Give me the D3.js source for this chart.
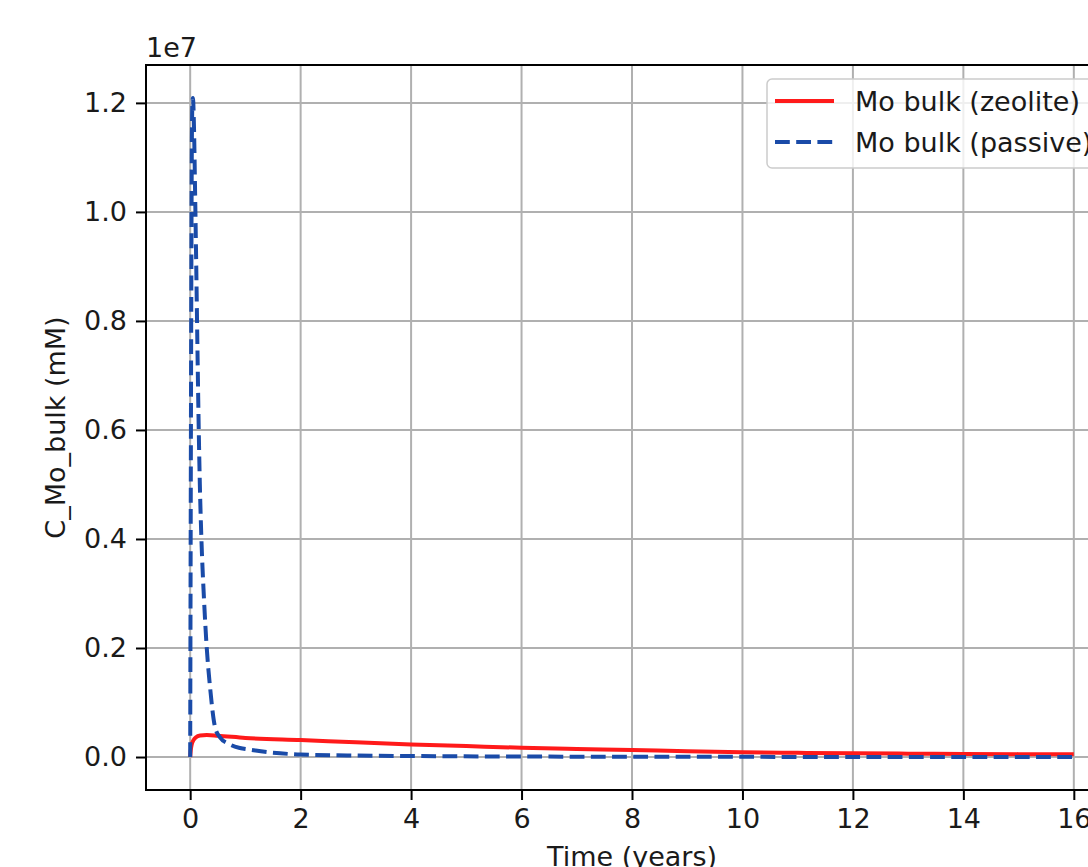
<!DOCTYPE html>
<html>
<head>
<meta charset="utf-8">
<script src="https://cdn.jsdelivr.net/npm/d3@7"></script>
<style>
  body { margin: 0; background: #fff; }
  text { font-family: "DejaVu Sans", sans-serif; fill: #1a1a1a; }
</style>
</head>
<body>
<script>
// values, concentration in mM
let timeZeolite = [0, 0.01, 0.03, 0.06, 0.1, 0.18, 0.3, 0.5, 1, 2, 3, 4, 5, 6, 7, 8, 9, 10, 11, 12, 13, 14, 15, 16];
let moZeolite = [0, 1.2e5, 2.4e5, 3.1e5, 3.6e5, 3.95e5, 4.02e5, 3.9e5, 3.5e5, 3.1e5, 2.7e5, 2.3e5, 2.0e5, 1.7e5,
    1.48e5, 1.28e5, 1.05e5, 8.7e4, 7.7e4, 6.8e4, 6.2e4, 5.7e4, 5.3e4, 5.0e4];

let timePassive = [0, 0.01, 0.02, 0.03, 0.04, 0.05, 0.07, 0.09, 0.11, 0.13, 0.15, 0.175, 0.2, 0.25, 0.3, 0.36,
    0.45, 0.54, 0.7, 0.9, 1.12, 1.35, 1.63, 2, 3, 4, 6, 8, 10, 12, 14, 16];
let moPassive = [0, 4.5e6, 8.5e6, 1.12e7, 1.2e7, 1.209e7, 1.15e7, 1.03e7, 9.0e6, 7.6e6, 6.3e6, 5.0e6, 4.1e6,
    2.9e6, 2.0e6, 1.28e6, 5.5e5, 3.6e5, 2.4e5, 1.65e5, 1.3e5, 9.5e4, 6.8e4, 4.5e4, 2.8e4, 1.8e4, 9e3, 5e3,
    3e3, 2e3, 2e3, 1e3];

let xTicks = [0, 2, 4, 6, 8, 10, 12, 14, 16];
let yTicks = [0, 0.2e7, 0.4e7, 0.6e7, 0.8e7, 1.0e7, 1.2e7];
let seriesNames = ["Mo bulk (zeolite)", "Mo bulk (passive)"];

let svgWidth = 1088;
let svgHeight = 867;
let margin = { left: 146, top: 65 };
let plotWidth = 972;
let plotHeight = 725;
let fontSize = 27;

let xScale = d3.scaleLinear().domain([-0.8, 16.8]).range([margin.left, margin.left + plotWidth]);
let yScale = d3.scaleLinear().domain([-0.0605e7, 1.2695e7]).range([margin.top + plotHeight, margin.top]);

let svg = d3.select("body").append("svg")
    .attr("width", svgWidth)
    .attr("height", svgHeight);

svg.append("defs").append("clipPath").attr("id", "plotclip")
    .append("rect")
    .attr("x", margin.left).attr("y", margin.top)
    .attr("width", plotWidth).attr("height", plotHeight);

// grid
svg.append("g").selectAll("line.gx").data(xTicks).enter().append("line")
    .attr("x1", d => xScale(d)).attr("x2", d => xScale(d))
    .attr("y1", margin.top).attr("y2", margin.top + plotHeight)
    .attr("stroke", "#b0b0b0").attr("stroke-width", 2);
svg.append("g").selectAll("line.gy").data(yTicks).enter().append("line")
    .attr("x1", margin.left).attr("x2", margin.left + plotWidth)
    .attr("y1", d => yScale(d)).attr("y2", d => yScale(d))
    .attr("stroke", "#b0b0b0").attr("stroke-width", 2);

let line = d3.line()
    .x(d => xScale(d[0]))
    .y(d => yScale(d[1]))
    .curve(d3.curveMonotoneX);

let lines = svg.append("g").attr("clip-path", "url(#plotclip)");
lines.append("path")
    .datum(d3.zip(timeZeolite, moZeolite))
    .attr("d", line)
    .attr("fill", "none")
    .attr("stroke", "#ff1a1a")
    .attr("stroke-width", 4);
lines.append("path")
    .datum(d3.zip(timePassive, moPassive))
    .attr("d", line)
    .attr("fill", "none")
    .attr("stroke", "#1a4ba8")
    .attr("stroke-width", 4)
    .attr("stroke-dasharray", "14.8,6.4");

// axes
let xAxis = d3.axisBottom(xScale).tickValues(xTicks).tickSize(10).tickPadding(9).tickFormat(d3.format("d"));
let yAxis = d3.axisLeft(yScale).tickValues(yTicks).tickSize(10).tickPadding(9).tickFormat(d => (d / 1e7).toFixed(1));

let gx = svg.append("g")
    .attr("transform", "translate(0," + (margin.top + plotHeight) + ")")
    .call(xAxis);
let gy = svg.append("g")
    .attr("transform", "translate(" + margin.left + ",0)")
    .call(yAxis);

[gx, gy].forEach(function (g) {
    g.select(".domain").remove();
    g.selectAll(".tick line").attr("stroke", "#000").attr("stroke-width", 2);
    g.selectAll(".tick text")
        .attr("font-family", "DejaVu Sans")
        .attr("font-size", fontSize)
        .attr("fill", "#1a1a1a");
});

// frame
svg.append("rect")
    .attr("x", margin.left).attr("y", margin.top)
    .attr("width", plotWidth).attr("height", plotHeight)
    .attr("fill", "none").attr("stroke", "#000").attr("stroke-width", 2);

// offset text and labels
svg.append("text")
    .attr("x", margin.left).attr("y", 57)
    .attr("font-size", fontSize)
    .text("1e7");

svg.append("text")
    .attr("transform", "translate(65," + (margin.top + plotHeight / 2) + ") rotate(-90)")
    .attr("text-anchor", "middle")
    .attr("font-size", fontSize)
    .text("C_Mo_bulk (mM)");

svg.append("text")
    .attr("x", margin.left + plotWidth / 2).attr("y", 866)
    .attr("text-anchor", "middle")
    .attr("font-size", fontSize)
    .text("Time (years)");

// legend
let legend = svg.append("g");
legend.append("rect")
    .attr("x", 767).attr("y", 79)
    .attr("width", 338).attr("height", 89)
    .attr("rx", 5)
    .attr("fill", "#fff").attr("fill-opacity", 0.8)
    .attr("stroke", "#cccccc").attr("stroke-width", 1.5);

let legendColors = ["#ff1a1a", "#1a4ba8"];
let legendDash = [null, "14.8,6.4"];
let legendRows = [101, 142];

seriesNames.forEach(function (name, i) {
    legend.append("line")
        .attr("x1", 775).attr("x2", 834)
        .attr("y1", legendRows[i]).attr("y2", legendRows[i])
        .attr("stroke", legendColors[i])
        .attr("stroke-width", 4)
        .attr("stroke-dasharray", legendDash[i]);
    legend.append("text")
        .attr("x", 855).attr("y", legendRows[i])
        .attr("dy", "0.36em")
        .attr("font-size", fontSize)
        .text(name);
});
</script>
</body>
</html>
